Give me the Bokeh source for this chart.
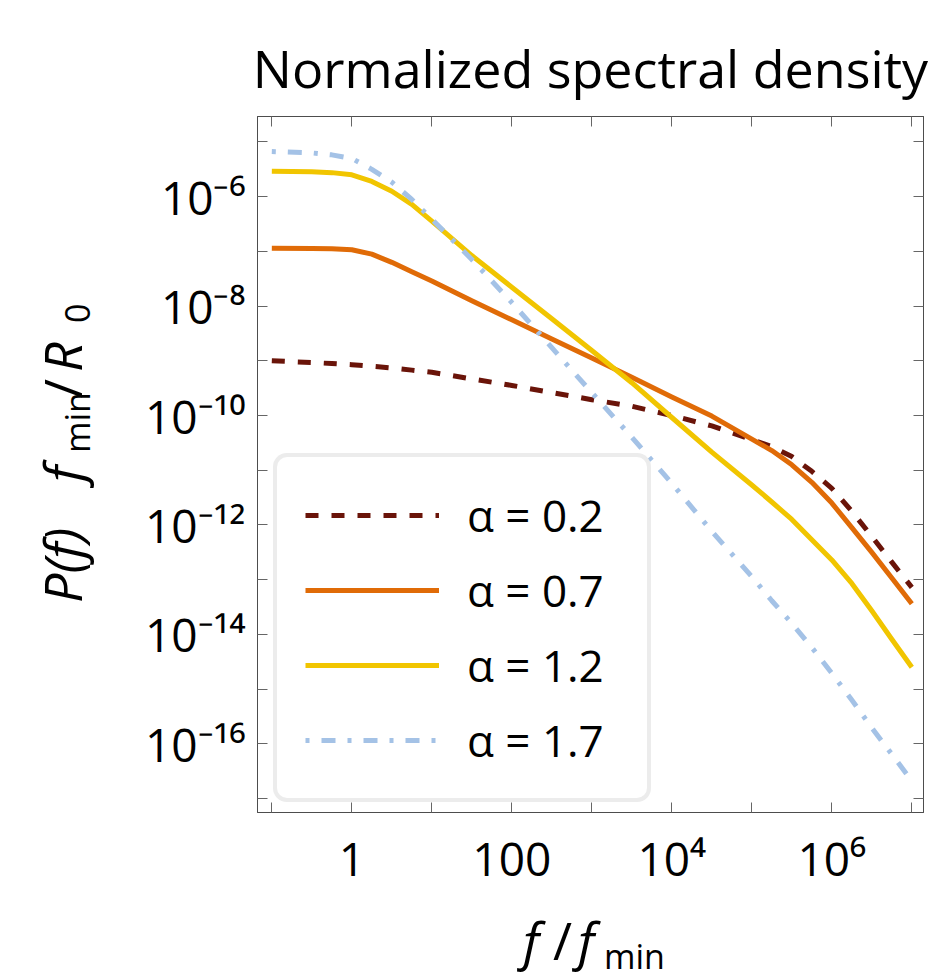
import numpy as np
from bokeh.plotting import figure
from bokeh.layouts import column, row
from bokeh.models import (FixedTicker, LogAxis, Legend, LegendItem, Div,
                          Range1d, CustomJSTickFormatter)
from bokeh.embed import file_html
from bokeh.resources import INLINE

# ---------------- data ----------------
log10_f = [-1, -0.5, -0.25, 0, 0.25, 0.5, 0.75, 1, 1.5, 2, 2.5, 3, 3.5, 4,
           4.5, 5, 5.25, 5.5, 5.75, 6, 6.25, 6.5, 6.75, 7]
log10_P_a02 = [-9.00, -9.03, -9.05, -9.07, -9.10, -9.13, -9.17, -9.21, -9.33,
               -9.45, -9.58, -9.71, -9.83, -10.00, -10.19, -10.44, -10.57,
               -10.75, -11.02, -11.33, -11.75, -12.21, -12.68, -13.14]
log10_P_a07 = [-6.94, -6.945, -6.95, -6.97, -7.05, -7.20, -7.37, -7.54, -7.90,
               -8.25, -8.60, -8.95, -9.30, -9.66, -10.01, -10.43, -10.64,
               -10.90, -11.22, -11.60, -12.05, -12.50, -12.97, -13.44]
log10_P_a12 = [-5.534, -5.545, -5.56, -5.60, -5.72, -5.90, -6.14, -6.446,
               -7.076, -7.654, -8.232, -8.81, -9.40, -10.036, -10.67, -11.27,
               -11.58, -11.90, -12.27, -12.64, -13.07, -13.57, -14.09, -14.60]
log10_P_a17 = [-5.174, -5.20, -5.235, -5.30, -5.50, -5.735, -6.05, -6.41,
               -7.147, -7.935, -8.76, -9.582, -10.397, -11.241, -12.117,
               -12.944, -13.385, -13.80, -14.239, -14.711, -15.20, -15.71,
               -16.19, -16.68]
series_labels = ["α = 0.2", "α = 0.7", "α = 1.2", "α = 1.7"]

x_major_ticks = [1, 100, 1e4, 1e6]
x_tick_labels = ["1", "100", "10⁴", "10⁶"]
x_minor_ticks = [0.1, 10, 1e3, 1e5, 1e7]
y_major_ticks = [1e-16, 1e-14, 1e-12, 1e-10, 1e-8, 1e-6]
y_tick_labels = ["10⁻¹⁶", "10⁻¹⁴", "10⁻¹²", "10⁻¹⁰", "10⁻⁸", "10⁻⁶"]
y_minor_ticks = [1e-17, 1e-15, 1e-13, 1e-11, 1e-9, 1e-7, 1e-5]

# ---------------- styles / layout ----------------
FONT = "Open Sans"
colors = ["#6a1409", "#e06b07", "#f1c500", "#a4c2e6"]
dashes = ["13 13", "solid", "solid", "4 12 14 12"]
W, H = 934, 979
YLAB_W = 105          # strip on the left holding the y-axis title
MAIN_H = 900          # height of the plot row; the rest holds the x title
XLAB_H = H - MAIN_H
MAIN_W = W - YLAB_W
FL, FR, FT, FB = 257, 923, 116, 812   # frame edges on the page
FRAME_COL = "#4d4d4d"

p = figure(width=MAIN_W, height=MAIN_H, x_axis_type="log", y_axis_type="log",
           x_range=Range1d(10 ** -1.179, 10 ** 7.146),
           y_range=Range1d(10 ** -17.256, 10 ** -4.534),
           output_backend="svg", toolbar_location=None,
           min_border_left=FL - YLAB_W, min_border_right=W - FR,
           min_border_top=FT, min_border_bottom=MAIN_H - FB)
p.background_fill_color = "white"
p.border_fill_color = "white"
p.outline_line_color = FRAME_COL
p.outline_line_width = 1
p.xgrid.visible = False
p.ygrid.visible = False

f = 10 ** np.array(log10_f)
series = [log10_P_a02, log10_P_a07, log10_P_a12, log10_P_a17]
renderers = []
for vals, c, d in zip(series, colors, dashes):
    r = p.line(f, 10 ** np.array(vals), line_color=c, line_width=5,
               line_dash=d, line_cap="butt", line_join="round")
    renderers.append(r)

# ---------------- axes ----------------
def style_axis(ax, standoff, size):
    ax.axis_line_color = FRAME_COL
    ax.axis_line_width = 1
    ax.major_tick_line_color = "#666666"
    ax.minor_tick_line_color = "#666666"
    ax.major_tick_in = 10
    ax.major_tick_out = 0
    ax.minor_tick_in = 10
    ax.minor_tick_out = 0
    ax.major_label_text_font = FONT
    ax.major_label_text_color = "black"
    ax.major_label_text_font_size = size
    ax.major_label_standoff = standoff

LABEL_JS = """
for (let i = 0; i < vals.length; i++) {
  if (Math.abs(Math.log10(tick) - Math.log10(vals[i])) < 1e-6) return labs[i];
}
return "";
"""
xt = FixedTicker(ticks=x_major_ticks, minor_ticks=x_minor_ticks)
yt = FixedTicker(ticks=y_major_ticks, minor_ticks=y_minor_ticks)

xb = p.xaxis[0]
xb.ticker = xt
xb.formatter = CustomJSTickFormatter(
    args=dict(vals=x_major_ticks, labs=x_tick_labels), code=LABEL_JS)
style_axis(xb, 14, "46px")
yl = p.yaxis[0]
yl.ticker = yt
yl.formatter = CustomJSTickFormatter(
    args=dict(vals=y_major_ticks, labs=y_tick_labels), code=LABEL_JS)
style_axis(yl, 12, "46px")

blank = CustomJSTickFormatter(code="return ''")
xtop = LogAxis(ticker=xt, formatter=blank)
style_axis(xtop, 0, "2px")
p.add_layout(xtop, "above")
yright = LogAxis(ticker=yt, formatter=blank)
style_axis(yright, 0, "2px")
p.add_layout(yright, "right")

# ---------------- title ----------------
p.title.text = "Normalized spectral density"
p.title.align = "center"
p.title.text_font = FONT
p.title.text_font_size = "52px"
p.title.text_font_style = "normal"
p.title.text_color = "black"
p.title.standoff = 27

# ---------------- legend ----------------
legend = Legend(items=[LegendItem(label=t, renderers=[r])
                       for t, r in zip(series_labels, renderers)],
                location=(16, 10), padding=28, spacing=15, margin=0,
                glyph_width=134, glyph_height=40, label_height=40,
                label_width=152, label_standoff=28, label_text_font=FONT,
                label_text_font_size="44px", label_text_color="black",
                border_line_color="#d9d9d9", border_line_width=4,
                background_fill_color="white", background_fill_alpha=1)
if "border_radius" in Legend.properties():
    legend.border_radius = 14
p.add_layout(legend)

# ---------------- axis titles (HTML text: italics and subscripts) -------
BASE = 0.888   # baseline position of Open Sans inside a line-height:1 box

def span(text, left, top, size, italic, rotate):
    style = (f"position:absolute;left:{left:.1f}px;top:{top:.1f}px;"
             f"font-family:'{FONT}';font-size:{size}px;line-height:1;"
             f"white-space:nowrap;color:black;"
             f"font-style:{'italic' if italic else 'normal'};")
    if rotate:
        style += "transform:rotate(-90deg);transform-origin:0 0;"
    return f'<span style="{style}">{text}</span>'

def box(w, h, inner):
    return f'<div style="position:relative;width:{w}px;height:{h}px;">{inner}</div>'

# y title: P(f)  f_min / R_0 reading upward; (baseline x, start y) on page
y_pieces = [("P(f)", 82, 603, 52, True), ("f", 82, 482, 52, True),
            ("min", 90, 453, 34, False), ("/", 82, 398, 52, False),
            ("R", 82, 372, 52, True), ("0", 90, 323, 34, False)]
y_html = "".join(span(t, bx - BASE * s, sy, s, it, True)
                 for t, bx, sy, s, it in y_pieces)
ydiv = Div(text=box(YLAB_W, MAIN_H, y_html), width=YLAB_W, height=MAIN_H,
           margin=0)

# x title: f / f_min; (start x, baseline y) on page
x_pieces = [("f", 523, 960, 52, True), ("/", 553, 960, 52, False),
            ("f", 578, 960, 52, True), ("min", 604, 969, 34, False)]
x_html = "".join(span(t, sx, by - MAIN_H - BASE * s, s, it, False)
                 for t, sx, by, s, it in x_pieces)
xdiv = Div(text=box(W, XLAB_H, x_html), width=W, height=XLAB_H, margin=0)

layout = column(row(ydiv, p, spacing=0), xdiv, spacing=0)
open("out.html", "w").write(file_html(layout, INLINE))
